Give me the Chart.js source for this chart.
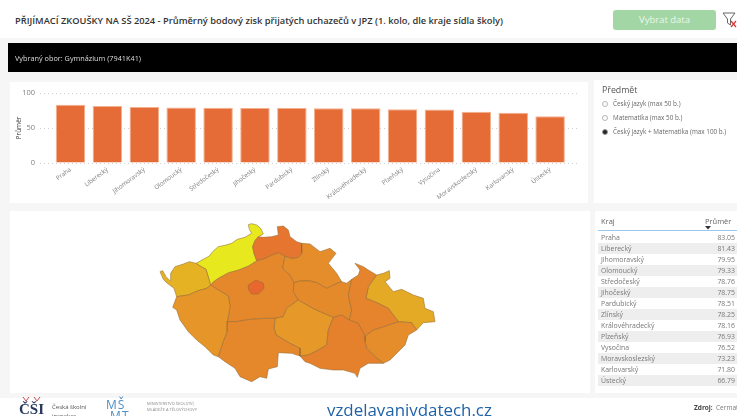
<!DOCTYPE html>
<html lang="cs">
<head>
  <meta charset="UTF-8">
  <title>Přijímací zkoušky na SŠ 2024</title>
  <style>
    html, body { margin: 0; padding: 0; }
    body {
      width: 737px; height: 416px; overflow: hidden; position: relative;
      background: #f6f6f6; font-family: "Open Sans", sans-serif; color: #555;
      filter: blur(0.6px);
    }
    .box { position: absolute; background: #fff; }
    .txt { position: absolute; white-space: nowrap; }
    #title { left: 15px; top: 14px; font-size: 9.3px; font-weight: 600; color: #333; line-height: 14px; }
    #btn {
      left: 613px; top: 10px; width: 103px; height: 20px; border-radius: 3px; background: #a3d6a5;
      color: #e9f6ea; font-size: 9.5px; line-height: 20px; text-align: center;
    }
    #banner { left: 8px; top: 43px; width: 729px; height: 29px; background: #000; }
    #bannerText { left: 15px; top: 52px; font-size: 7.3px; line-height: 12px; color: #ddd; }
    canvas { position: absolute; }
    .radio { position: absolute; left: 602px; width: 4px; height: 4px; border: 1px solid #b5b5b5; border-radius: 50%; background: #fff; }
    .radio.on { background: #222; border-color: #999; }
    .opt { left: 613px; font-size: 6.9px; line-height: 10px; color: #666; transform: scaleX(0.92); transform-origin: left center; }
    #kraje { position: absolute; left: 598px; top: 231.5px; width: 139px; border-collapse: collapse; font-size: 6.9px; color: #777; }
    #kraje td { height: 11.05px; padding: 0 2px 0 3px; line-height: 11px; }
    #kraje td:last-child { text-align: right; }
    #kraje tr:nth-child(even) td { background: #eeeeee; }
    #footer { position: absolute; left: 0; top: 398px; width: 737px; height: 18px; background: #fff; }
  </style>
  <script src="https://cdn.jsdelivr.net/npm/chart.js"></script>
</head>
<body>
  <div class="box" style="left:0;top:0;width:737px;height:38px"></div>
  <div class="txt" id="title">PŘIJÍMACÍ ZKOUŠKY NA SŠ 2024 - Průměrný bodový zisk přijatých uchazečů v JPZ (1. kolo, dle kraje sídla školy)</div>
  <div class="txt" id="btn">Vybrat data</div>
  <svg style="position:absolute;left:722px;top:11px" width="15" height="18" viewBox="0 0 15 18">
    <path d="M1 2 H13 L8.5 8 V14 L5.5 12 V8 Z" fill="none" stroke="#666" stroke-width="1"/>
    <path d="M9 10 L14 16 M14 10 L9 16" stroke="#d33" stroke-width="1.2"/>
  </svg>

  <div class="box" id="banner"></div>
  <div class="txt" id="bannerText">Vybraný obor: Gymnázium (7941K41)</div>

  <div class="box" style="left:10px;top:82px;width:578px;height:121px"></div>
  <canvas id="barChart" style="left:10px;top:82px"></canvas>

  <div class="box" style="left:594px;top:80px;width:143px;height:123px"></div>
  <div class="txt" style="left:602px;top:83px;font-size:8.8px;line-height:14px;color:#555">Předmět</div>
  <span class="radio" style="top:101px"></span>
  <div class="txt opt" style="top:99px">Český jazyk (max 50 b.)</div>
  <span class="radio" style="top:115px"></span>
  <div class="txt opt" style="top:113px">Matematika (max 50 b.)</div>
  <span class="radio on" style="top:129px"></span>
  <div class="txt opt" style="top:127px">Český jazyk + Matematika (max 100 b.)</div>

  <div class="box" style="left:10px;top:211px;width:580px;height:182px"></div>
  <canvas id="mapChart" style="left:10px;top:211px"></canvas>

  <div class="box" style="left:595px;top:211px;width:142px;height:182px"></div>
  <div class="txt" style="left:601px;top:216px;font-size:7.5px;line-height:11px;color:#666">Kraj</div>
  <div class="txt" style="left:705px;top:216px;font-size:7.5px;line-height:11px;color:#666">Průměr</div>
  <svg style="position:absolute;left:705px;top:226px" width="6" height="4"><path d="M0 0 H6 L3 3.5 Z" fill="#333"/></svg>
  <div class="box" style="left:598px;top:230px;width:139px;height:1px;background:#9cc7ee"></div>
  <table id="kraje"></table>

  <div id="footer"></div>
  <svg style="position:absolute;left:22px;top:397px" width="20" height="6"><path d="M1 0 L4 4 L7 0 M12 0 L15 4 L18 0" fill="none" stroke="#c04a4a" stroke-width="1"/></svg>
  <div class="txt" style="left:19px;top:401px;font-family:'Liberation Serif',serif;font-size:15px;line-height:16px;font-weight:700;color:#2a3a5c">ČŠI</div>
  <div class="txt" style="left:52px;top:403px;font-size:6px;line-height:9px;color:#555">Česká školní<br>inspekce</div>
  <div class="txt" style="left:106px;top:399px;font-size:12px;line-height:11px;color:#4f8fc6;letter-spacing:1px">MŠ<br>&nbsp;MT</div>
  <div class="txt" style="left:147px;top:401px;font-size:4px;line-height:6px;color:#888">MINISTERSTVO ŠKOLSTVÍ,<br>MLÁDEŽE A TĚLOVÝCHOVY</div>
  <div class="txt" style="left:327px;top:401px;font-size:16.9px;line-height:18px;color:#1f62a8">vzdelavanivdatech.cz</div>
  <div class="txt" style="left:694px;top:403px;font-size:6.5px;line-height:10px;font-weight:700;color:#444">Zdroj:</div>
  <div class="txt" style="left:716px;top:403px;font-size:6.5px;line-height:10px;color:#777">Cermat</div>

  <script>
    const kraje = ['Praha', 'Liberecký', 'Jihomoravský', 'Olomoucký', 'Středočeský', 'Jihočeský', 'Pardubický',
      'Zlínský', 'Královéhradecký', 'Plzeňský', 'Vysočina', 'Moravskoslezský', 'Karlovarský', 'Ústecký'];
    const prumer = [83.05, 81.43, 79.95, 79.33, 78.76, 78.75, 78.51, 78.25, 78.16, 76.93, 76.52, 73.23, 71.80, 66.79];
    const yTicks = [0, 50, 100];

    // map outlines, map units are 1/3 of a pixel, y grows downwards
    const obrysPraha = [[295,195],[318,180],[340,190],[342,205],[325,222],[305,222],[295,208],[295,195]];
    const obrysStredocesky = [[182,195],[190,185],[205,175],[235,158],[265,150],[295,138],[320,122],[345,115],[365,105],[385,98],[405,108],[398,145],[420,165],[432,188],[430,215],[445,240],[410,265],[400,290],[375,295],[350,295],[300,298],[260,305],[232,305],[240,260],[235,228],[205,210],[182,195]];
    const obrysUstecky = [[295,14],[305,11],[320,15],[332,25],[340,42],[325,50],[315,62],[308,80],[312,100],[320,122],[295,138],[265,150],[235,158],[205,175],[190,185],[182,195],[176,175],[168,148],[150,138],[138,130],[160,118],[178,108],[188,95],[205,80],[225,76],[245,70],[262,58],[285,52],[305,40],[298,28],[295,14]];
    const obrysLiberecky = [[308,80],[315,62],[325,50],[340,52],[365,50],[385,45],[382,20],[400,18],[415,30],[420,50],[440,65],[455,70],[455,100],[445,112],[425,115],[405,108],[385,98],[365,105],[345,115],[320,122],[312,100],[308,80]];
    const obrysKarlovarsky = [[30,155],[38,152],[48,170],[60,182],[62,160],[75,140],[100,132],[118,125],[138,130],[150,138],[168,148],[176,175],[182,195],[170,205],[145,212],[115,225],[80,230],[72,205],[52,190],[40,178],[30,155]];
    const obrysPlzensky = [[80,230],[115,225],[145,212],[170,205],[182,195],[205,210],[235,228],[240,260],[232,305],[232,335],[220,365],[205,410],[190,405],[165,380],[140,360],[115,335],[90,300],[80,270],[68,262],[80,230]];
    const obrysJihocesky = [[205,410],[220,365],[232,335],[232,305],[260,305],[300,298],[350,295],[375,295],[372,325],[378,345],[420,370],[450,385],[450,408],[425,400],[385,398],[382,440],[355,447],[350,475],[330,470],[305,485],[270,470],[255,445],[225,425],[205,410]];
    const obrysVysocina = [[375,295],[400,290],[410,265],[445,240],[495,268],[550,292],[535,330],[530,375],[505,390],[475,405],[450,408],[450,385],[420,370],[378,345],[372,325],[375,295]];
    const obrysKralovehradecky = [[405,108],[425,115],[445,112],[455,100],[455,70],[480,72],[510,95],[540,85],[558,100],[535,130],[560,160],[575,185],[550,195],[530,205],[500,188],[480,183],[450,183],[432,188],[420,165],[398,145],[405,108]];
    const obrysPardubicky = [[432,188],[450,183],[480,183],[500,188],[530,205],[550,195],[575,185],[590,190],[605,178],[595,225],[605,270],[598,300],[575,285],[550,292],[495,268],[445,240],[430,215],[432,188]];
    const obrysOlomoucky = [[615,130],[640,140],[655,150],[680,165],[655,200],[648,235],[685,250],[715,265],[745,305],[700,320],[670,330],[645,348],[625,310],[598,300],[605,270],[595,225],[605,178],[625,165],[630,150],[615,130]];
    const obrysMoravskoslezsky = [[680,165],[700,160],[718,152],[720,175],[705,185],[730,215],[755,208],[790,225],[820,235],[825,265],[850,275],[855,305],[820,308],[800,330],[785,308],[745,305],[715,265],[685,250],[648,235],[655,200],[680,165]];
    const obrysZlinsky = [[645,348],[670,330],[700,320],[745,305],[785,308],[800,330],[775,345],[765,375],[745,395],[720,420],[700,430],[675,410],[650,385],[645,365],[645,348]];
    const obrysJihomoravsky = [[450,408],[475,405],[505,390],[530,375],[535,330],[550,292],[575,285],[598,300],[625,310],[645,348],[645,365],[650,385],[675,410],[700,430],[655,430],[630,445],[622,472],[615,460],[580,450],[550,450],[510,445],[480,430],[465,425],[450,408]];

    // Praha first, Chart.js paints dataset 0 last so it stays on top of Středočeský
    const mapaKraje = ['Praha', 'Liberecký', 'Jihomoravský', 'Olomoucký', 'Jihočeský', 'Pardubický', 'Zlínský',
      'Královéhradecký', 'Plzeňský', 'Vysočina', 'Moravskoslezský', 'Karlovarský', 'Ústecký', 'Středočeský'];
    const mapaObrysy = [obrysPraha, obrysLiberecky, obrysJihomoravsky, obrysOlomoucky, obrysJihocesky, obrysPardubicky, obrysZlinsky,
      obrysKralovehradecky, obrysPlzensky, obrysVysocina, obrysMoravskoslezsky, obrysKarlovarsky, obrysUstecky, obrysStredocesky];

    // colour scale of the map
    const stupnice = [[66.79, [232, 232, 30]], [71.8, [229, 178, 36]], [76.7, [230, 152, 40]], [79, [229, 134, 44]], [81.43, [230, 118, 47]], [83.05, [232, 103, 47]]];
    function barvaKraje(v) {
      for (let i = 1; i < stupnice.length; i++) {
        if (v <= stupnice[i][0]) {
          const [a, ca] = stupnice[i - 1], [b, cb] = stupnice[i];
          const t = (v - a) / (b - a);
          return 'rgb(' + ca.map((c, k) => Math.round(c + (cb[k] - c) * t)).join(',') + ')';
        }
      }
      return 'rgb(232,103,47)';
    }

    // table
    document.getElementById('kraje').innerHTML = kraje.map((k, i) =>
      `<tr><td>${k}</td><td>${prumer[i].toFixed(2)}</td></tr>`).join('');

    Chart.defaults.animation = false;
    Chart.defaults.font.family = '"Open Sans", sans-serif';

    // bars, linear x so the dotted grid runs past the first and last bar
    const barCanvas = document.getElementById('barChart');
    barCanvas.width = 578; barCanvas.height = 121;
    new Chart(barCanvas, {
      type: 'bar',
      data: {
        datasets: [{
          label: 'Průměr',
          data: prumer.map((v, i) => ({ x: i, y: v })),
          backgroundColor: '#e66c37',
          borderColor: '#f3b08f',
          borderWidth: 1,
          barPercentage: 1,
          categoryPercentage: 0.8
        }]
      },
      options: {
        responsive: false,
        layout: { padding: { top: 11, right: 8, left: 0, bottom: 0 } },
        plugins: { legend: { display: false }, tooltip: { enabled: false } },
        scales: {
          x: {
            type: 'linear', min: -0.827, max: 13.81, offset: false,
            grid: { display: false }, border: { display: false },
            afterFit: s => { s.height = 40; s.paddingLeft = 0; s.paddingRight = 0; },
            ticks: {
              stepSize: 1, includeBounds: false, autoSkip: false, minRotation: 37, maxRotation: 37,
              padding: -5, color: '#808080', font: { size: 6.2 },
              callback: v => kraje[v] || ''
            }
          },
          y: {
            min: 0, max: 100,
            afterFit: s => { s.width = 30; },
            afterBuildTicks: s => { s.ticks = yTicks.map(v => ({ value: v })); },
            grid: { color: '#cfcfcf', drawTicks: false },
            border: { display: false, dash: [1, 3] },
            ticks: { padding: 5, color: '#808080', font: { size: 7.5 } },
            title: { display: true, text: 'Průměr', color: '#444', font: { size: 6.5 }, padding: { top: 5, bottom: 0 } }
          }
        }
      }
    });

    // map, drawn as closed scatter lines
    const mapCanvas = document.getElementById('mapChart');
    mapCanvas.width = 580; mapCanvas.height = 182;
    new Chart(mapCanvas, {
      type: 'scatter',
      data: {
        datasets: mapaKraje.map((k, i) => {
          const barva = barvaKraje(prumer[kraje.indexOf(k)]);
          return {
            label: k,
            data: mapaObrysy[i].map(p => ({ x: p[0], y: p[1] })),
            showLine: true,
            fill: 'shape',
            tension: 0,
            backgroundColor: barva,
            borderColor: 'rgba(150,105,50,0.55)',
            borderWidth: 1,
            pointRadius: 0
          };
        })
      },
      options: {
        responsive: false,
        layout: { padding: 0 },
        plugins: { legend: { display: false }, tooltip: { enabled: false } },
        scales: {
          x: { type: 'linear', display: false, min: -420, max: 1320 },
          y: { type: 'linear', display: false, min: -27, max: 519, reverse: true }
        }
      }
    });
  </script>
</body>
</html>
